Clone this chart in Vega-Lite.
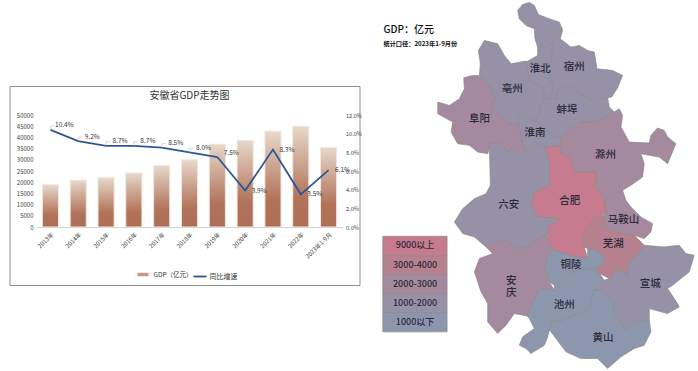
{
"$schema":"https://vega.github.io/schema/vega-lite/v6.json",
"padding":{"left":8.5,"top":0.5,"right":0,"bottom":0},
"background":"white",
"bounds":"flush",
"center":true,
"spacing":23,
"config":{"font":"Noto Sans CJK SC","view":{"stroke":null}},
"datasets":{
"gdp":[
{"year":"2013年","gdp":18900,"rate":0.104},
{"year":"2014年","gdp":20900,"rate":0.092},
{"year":"2015年","gdp":22000,"rate":0.087},
{"year":"2016年","gdp":24100,"rate":0.087},
{"year":"2017年","gdp":27500,"rate":0.085},
{"year":"2018年","gdp":30000,"rate":0.080},
{"year":"2019年","gdp":37000,"rate":0.075},
{"year":"2020年","gdp":38700,"rate":0.039},
{"year":"2021年","gdp":42800,"rate":0.083},
{"year":"2022年","gdp":45000,"rate":0.035},
{"year":"2023年1-9月","gdp":35500,"rate":0.061}
],
"regions":[
{"type":"Feature","properties":{"name":"宿州","level":"1000-2000"},"geometry":{"type":"Polygon","coordinates":[[[430,30],[445,12],[465,6],[480,15],[492,42],[525,55],[555,65],[565,88],[558,115],[590,140],[615,135],[640,150],[660,155],[668,205],[715,210],[745,225],[730,262],[712,290],[700,292],[660,302],[640,290],[615,285],[600,258],[575,258],[550,270],[548,295],[525,295],[538,260],[522,225],[538,125],[515,140],[490,140],[482,115],[480,85],[455,75],[435,55],[430,30]]]}},
{"type":"Feature","properties":{"name":"淮北","level":"1000-2000"},"geometry":{"type":"Polygon","coordinates":[[[490,140],[515,140],[538,125],[522,225],[538,260],[525,295],[510,295],[505,260],[465,240],[460,215],[455,185],[490,165],[490,140]]]}},
{"type":"Feature","properties":{"name":"亳州","level":"1000-2000"},"geometry":{"type":"Polygon","coordinates":[[[312,150],[330,120],[370,130],[390,165],[410,190],[455,182],[460,215],[465,240],[505,260],[510,295],[498,325],[485,362],[450,350],[432,342],[432,375],[400,370],[380,345],[350,320],[362,290],[345,255],[315,225],[318,190],[312,150]]]}},
{"type":"Feature","properties":{"name":"阜阳","level":"2000-3000"},"geometry":{"type":"Polygon","coordinates":[[[315,225],[345,255],[362,290],[350,320],[380,345],[400,370],[432,375],[440,400],[445,430],[455,450],[435,460],[415,445],[400,455],[375,425],[350,430],[340,460],[310,455],[285,435],[250,430],[230,395],[235,365],[190,340],[190,305],[225,315],[255,295],[270,265],[268,232],[295,225],[315,225]]]}},
{"type":"Feature","properties":{"name":"淮南","level":"1000-2000"},"geometry":{"type":"Polygon","coordinates":[[[432,342],[450,350],[485,362],[505,375],[530,405],[560,410],[560,437],[510,440],[490,435],[455,450],[445,430],[440,400],[432,375],[432,342]]]}},
{"type":"Feature","properties":{"name":"蚌埠","level":"1000-2000"},"geometry":{"type":"Polygon","coordinates":[[[510,295],[525,295],[548,295],[550,270],[575,258],[600,258],[615,285],[640,290],[660,302],[700,292],[705,320],[720,335],[665,365],[620,365],[585,385],[560,410],[530,405],[505,375],[485,362],[498,325],[510,295]]]}},
{"type":"Feature","properties":{"name":"滁州","level":"2000-3000"},"geometry":{"type":"Polygon","coordinates":[[[735,325],[745,345],[740,380],[765,425],[825,428],[830,405],[850,383],[870,390],[880,410],[905,430],[880,490],[855,470],[800,460],[810,490],[805,530],[770,555],[745,570],[692,595],[660,555],[665,515],[600,515],[590,470],[560,460],[560,410],[585,385],[620,365],[665,365],[720,335],[735,325]]]}},
{"type":"Feature","properties":{"name":"合肥","level":"9000以上"},"geometry":{"type":"Polygon","coordinates":[[[510,440],[560,437],[560,460],[590,470],[600,515],[665,515],[665,540],[660,555],[692,595],[695,640],[660,655],[630,695],[630,740],[640,775],[600,770],[540,750],[520,720],[520,680],[555,655],[490,650],[470,610],[480,575],[525,555],[525,480],[510,440]]]}},
{"type":"Feature","properties":{"name":"六安","level":"1000-2000"},"geometry":{"type":"Polygon","coordinates":[[[345,430],[350,430],[375,425],[400,455],[415,445],[435,460],[455,450],[490,435],[510,440],[525,480],[525,555],[480,575],[470,610],[490,650],[555,655],[520,680],[518,705],[500,710],[460,740],[430,745],[395,720],[350,730],[335,740],[300,710],[265,700],[240,665],[265,625],[300,595],[335,580],[348,555],[345,430]]]}},
{"type":"Feature","properties":{"name":"安庆","level":"2000-3000"},"geometry":{"type":"Polygon","coordinates":[[[335,740],[350,730],[395,720],[430,745],[460,740],[500,710],[518,705],[520,720],[540,750],[518,770],[512,805],[525,845],[540,870],[495,865],[480,900],[458,947],[420,940],[395,975],[370,1000],[340,965],[340,910],[320,875],[300,815],[315,775],[355,760],[335,740]]]}},
{"type":"Feature","properties":{"name":"铜陵","level":"1000以下"},"geometry":{"type":"Polygon","coordinates":[[[540,750],[600,770],[640,775],[640,745],[670,750],[695,780],[665,805],[640,805],[610,810],[570,825],[540,855],[525,845],[512,805],[518,770],[540,750]]]}},
{"type":"Feature","properties":{"name":"池州","level":"1000以下"},"geometry":{"type":"Polygon","coordinates":[[[540,870],[540,855],[570,825],[610,810],[640,805],[665,805],[690,840],[660,870],[645,925],[570,960],[530,965],[525,990],[520,1010],[510,1035],[470,1060],[455,1045],[435,1035],[445,1010],[480,985],[465,955],[458,947],[480,900],[495,865],[540,870]]]}},
{"type":"Feature","properties":{"name":"黄山","level":"1000以下"},"geometry":{"type":"Polygon","coordinates":[[[660,870],[680,870],[720,905],[720,940],[755,990],[790,965],[825,960],[830,995],[810,1035],[780,1045],[740,1070],[700,1105],[670,1075],[620,1075],[575,1055],[530,995],[525,990],[530,965],[570,960],[645,925],[660,870]]]}},
{"type":"Feature","properties":{"name":"宣城","level":"1000-2000"},"geometry":{"type":"Polygon","coordinates":[[[810,735],[870,740],[915,735],[935,760],[960,765],[945,815],[895,855],[880,865],[910,910],[915,920],[880,940],[825,925],[825,960],[790,965],[755,990],[720,940],[720,905],[680,870],[660,870],[690,840],[705,835],[730,805],[760,825],[760,790],[785,765],[810,735]]]}},
{"type":"Feature","properties":{"name":"芜湖","level":"3000-4000"},"geometry":{"type":"Polygon","coordinates":[[[660,655],[690,645],[690,680],[725,695],[780,705],[810,735],[785,765],[760,790],[760,825],[730,805],[705,835],[670,817],[665,805],[695,780],[670,750],[640,745],[630,740],[630,695],[660,655]]]}},
{"type":"Feature","properties":{"name":"马鞍山","level":"2000-3000"},"geometry":{"type":"Polygon","coordinates":[[[692,595],[745,570],[755,600],[770,620],[800,650],[835,670],[830,695],[810,715],[780,705],[725,695],[690,680],[690,645],[695,640],[692,595]]]}},
{"type":"Feature","properties":{"name":"图例9000以上","level":"9000以上"},"geometry":{"type":"Polygon","coordinates":[[[25,708],[218,708],[218,766],[25,766],[25,708]]]}},
{"type":"Feature","properties":{"name":"图例3000-4000","level":"3000-4000"},"geometry":{"type":"Polygon","coordinates":[[[25,766],[218,766],[218,823],[25,823],[25,766]]]}},
{"type":"Feature","properties":{"name":"图例2000-3000","level":"2000-3000"},"geometry":{"type":"Polygon","coordinates":[[[25,823],[218,823],[218,880],[25,880],[25,823]]]}},
{"type":"Feature","properties":{"name":"图例1000-2000","level":"1000-2000"},"geometry":{"type":"Polygon","coordinates":[[[25,880],[218,880],[218,937],[25,937],[25,880]]]}},
{"type":"Feature","properties":{"name":"图例1000以下","level":"1000以下"},"geometry":{"type":"Polygon","coordinates":[[[25,937],[218,937],[218,995],[25,995],[25,937]]]}}
],
"cityLabels":[
{"name":"淮北","lon":498,"lat":205},{"name":"宿州","lon":600,"lat":200},{"name":"亳州","lon":414,"lat":267},{"name":"阜阳","lon":315,"lat":357},{"name":"蚌埠","lon":578,"lat":330},{"name":"淮南","lon":482,"lat":398},{"name":"滁州","lon":694,"lat":464},{"name":"合肥","lon":586,"lat":603},{"name":"六安","lon":403,"lat":615},{"name":"马鞍山","lon":748,"lat":659},{"name":"芜湖","lon":717,"lat":731},{"name":"铜陵","lon":590,"lat":795},{"name":"安\n庆","lon":411,"lat":841},{"name":"宣城","lon":828,"lat":852},{"name":"池州","lon":570,"lat":915},{"name":"黄山","lon":686,"lat":1012}
],
"legendLabels":[
{"name":"9000以上","lon":122,"lat":735},{"name":"3000-4000","lon":122,"lat":793},{"name":"2000-3000","lon":122,"lat":850},{"name":"1000-2000","lon":122,"lat":907},{"name":"1000以下","lon":122,"lat":965}
]
},
"hconcat":[
{
"width":350,"height":199,
"view":{"stroke":"#8f8f8f","strokeWidth":1,"fill":"white"},
"title":{"text":"安徽省GDP走势图","fontSize":10,"fontWeight":"normal","color":"#333333","anchor":"middle","offset":-15,"dx":5,"frame":"group"},
"data":{"name":"gdp"},
"encoding":{"x":{"field":"year","type":"nominal","sort":null,"scale":{"range":[27,333],"paddingInner":0.42,"paddingOuter":0.21},"axis":{"title":null,"offset":-58,"labelAngle":-45,"labelFontSize":6,"labelColor":"#404040","ticks":false,"domainColor":"#d0d0d0","labelPadding":4}}},
"layer":[
{"mark":{"type":"bar","stroke":"#f2e8df","strokeWidth":1,"fill":{"gradient":"linear","x1":0,"y1":0,"x2":0,"y2":1,"stops":[{"offset":0,"color":"#e8d8ca"},{"offset":0.72,"color":"#b17259"},{"offset":1,"color":"#af6f57"}]}},
"encoding":{
"y":{"field":"gdp","type":"quantitative","scale":{"domain":[0,50000],"range":[141,29]},"axis":{"title":null,"orient":"left","offset":-27,"format":"d","values":[0,5000,10000,15000,20000,25000,30000,35000,40000,45000,50000],"labelFontSize":6,"labelColor":"#404040","ticks":false,"domain":false,"grid":false,"labelPadding":3.5}}
}},
{"mark":{"type":"bar","opacity":0},
"encoding":{
"y":{"field":"gdp","type":"quantitative","scale":{"domain":[0,50000],"range":[141,29]},"axis":null},
"fill":{"datum":"GDP（亿元）","type":"nominal","scale":{"domain":["GDP（亿元）"],"range":["#c49a85"]},
"legend":{"title":null,"orient":"none","legendX":128,"legendY":183,"symbolType":"M-1,-0.32H1V0.32H-1Z","symbolSize":121,"symbolOpacity":1,"labelFontSize":6.5,"labelColor":"#333333","labelOffset":5,"symbolStrokeWidth":0}}
}},
{"mark":{"type":"line","strokeWidth":1.8},
"encoding":{
"y":{"field":"rate","type":"quantitative","scale":{"domain":[0,0.12],"range":[141,29]},"axis":{"title":null,"orient":"right","offset":-17,"format":".1%","values":[0,0.02,0.04,0.06,0.08,0.1,0.12],"labelFontSize":5.6,"labelColor":"#404040","ticks":false,"domain":false,"grid":false,"labelPadding":3}},
"stroke":{"datum":"同比增速","type":"nominal","scale":{"domain":["同比增速"],"range":["#2f5597"]},
"legend":{"title":null,"orient":"none","legendX":183,"legendY":183,"symbolType":"stroke","symbolSize":170,"symbolStrokeWidth":1.8,"labelFontSize":7,"labelColor":"#333333","labelOffset":2}}
}},
{"transform":[{"filter":{"field":"year","oneOf":["2013年","2014年","2015年","2016年","2017年","2018年","2019年"]}}],
"mark":{"type":"point","shape":"M0,0L0,-1L1,-1","filled":false,"size":64,"stroke":"#bfbfbf","strokeWidth":0.6,"opacity":1},
"encoding":{"y":{"field":"rate","type":"quantitative","scale":{"domain":[0,0.12],"range":[141,29]},"axis":null}}},
{"transform":[{"filter":{"field":"year","oneOf":["2013年","2014年","2015年","2016年","2017年","2018年","2019年"]}}],
"mark":{"type":"text","dx":14,"dy":-4.5,"fontSize":6.5,"fill":"#333333"},
"encoding":{"y":{"field":"rate","type":"quantitative","scale":{"domain":[0,0.12],"range":[141,29]},"axis":null},"text":{"field":"rate","type":"quantitative","format":".1%"}}},
{"transform":[{"filter":{"field":"year","oneOf":["2020年","2021年","2022年","2023年1-9月"]}}],
"mark":{"type":"text","dx":14,"dy":0,"fontSize":6.5,"fill":"#333333"},
"encoding":{"y":{"field":"rate","type":"quantitative","scale":{"domain":[0,0.12],"range":[141,29]},"axis":null},"text":{"field":"rate","type":"quantitative","format":".1%"}}}
],
"resolve":{"scale":{"y":"independent","fill":"independent","stroke":"independent"},"axis":{"y":"independent"}}
},
{
"width":312,"height":366,
"projection":{"type":"identity"},
"layer":[
{"data":{"name":"regions"},
"mark":{"type":"geoshape","stroke":"#8a8a8a","strokeWidth":0.7},
"encoding":{"fill":{"field":"properties.level","type":"nominal","legend":null,"scale":{"domain":["9000以上","3000-4000","2000-3000","1000-2000","1000以下"],"range":["#c67b8e","#b7808f","#a5899e","#9691a6","#8c97ae"]}}}},
{"data":{"name":"cityLabels"},
"mark":{"type":"text","fontSize":10.5,"fontWeight":500,"fill":"#2b2b3b","lineBreak":"\n","lineHeight":12.5},
"encoding":{"longitude":{"field":"lon","type":"quantitative"},"latitude":{"field":"lat","type":"quantitative"},"text":{"field":"name"}}},
{"data":{"name":"legendLabels"},
"mark":{"type":"text","fontSize":9,"fontWeight":500,"fill":"#2b2b3b"},
"encoding":{"longitude":{"field":"lon","type":"quantitative"},"latitude":{"field":"lat","type":"quantitative"},"text":{"field":"name"}}},
{"data":{"values":[{"name":"GDP：亿元","lon":27,"lat":88}]},
"mark":{"type":"text","fontSize":10,"align":"left","fontWeight":500,"fill":"#111111"},
"encoding":{"longitude":{"field":"lon","type":"quantitative"},"latitude":{"field":"lat","type":"quantitative"},"text":{"field":"name"}}},
{"data":{"values":[{"name":"统计口径：2023年1-9月份","lon":27,"lat":132}]},
"mark":{"type":"text","fontSize":6.2,"align":"left","fontWeight":700,"fill":"#111111"},
"encoding":{"longitude":{"field":"lon","type":"quantitative"},"latitude":{"field":"lat","type":"quantitative"},"text":{"field":"name"}}}
]
}
]
}
